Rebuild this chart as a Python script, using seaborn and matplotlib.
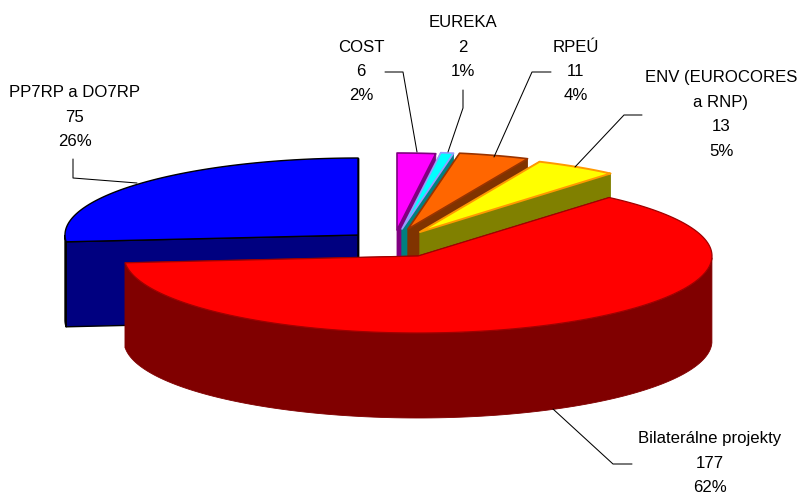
import numpy as np
import matplotlib
matplotlib.use("Agg")
import matplotlib.pyplot as plt
from matplotlib.patches import Polygon
import seaborn as sns

# ---- data ----
categories = ["Bilaterálne projekty", "PP7RP a DO7RP", "COST", "EUREKA", "RPEÚ", "ENV (EUROCORES\na RNP)"]
values = [177, 75, 6, 2, 11, 13]

# ---- styles ----
top_colors = ["#FF0000", "#0000FF", "#FF00FF", "#00FFFF", "#FF6600", "#FFFF00"]
side_colors = ["#800000", "#000080", "#800080", "#008080", "#803300", "#808000"]
edge_colors = ["#A00000", "#000000", "#800080", "#9999FF", "#993300", "#FF9900"]
edge_widths = [0.9, 1.0, 1.2, 1.2, 1.2, 1.4]

# ---- layout (pixels) ----
apex_x = [418, 358, 397, 402, 408, 420]
apex_y = [256, 235, 230, 229, 229, 232]
radius_x = [294, 293, 293, 293, 293, 293]
radius_y = 77
depth = 85
draw_order = [1, 2, 3, 4, 5, 0]
label_x = [710, 75, 361, 463, 576, 721]
label_y = [463, 117, 71.5, 47, 71.5, 114.5]
leader_paths = [
    ([632, 613, 553], [464, 464, 409]),
    ([73, 73, 137], [159, 178, 183]),
    ([385, 403, 417], [72, 72, 152]),
    ([463, 463, 448], [90, 108, 152]),
    ([551, 532, 494], [72, 72, 157]),
    ([642, 624, 575], [115, 115, 167]),
]

sns.set_theme(style="white")
plt.rcParams["font.family"] = ["Liberation Sans", "DejaVu Sans"]

fig = plt.figure(figsize=(7.97, 4.95), dpi=100)
ax = fig.add_axes([0, 0, 1, 1])
ax.set_xlim(0, 797)
ax.set_ylim(495, 0)
ax.axis("off")

total = sum(values)
sweeps = [v / total * 360 for v in values]
# clockwise order; the blue slice ends exactly at twelve o'clock
starts = []
a = 90 - sum(sweeps[2:])
for s in sweeps:
    starts.append(a)
    a -= s


def point(i, ang, dz=0):
    t = np.radians(ang)
    return (apex_x[i] + radius_x[i] * np.cos(t), apex_y[i] - radius_y * np.sin(t) + dz)


for z, i in enumerate(draw_order):
    a0, a1 = starts[i], starts[i] - sweeps[i]
    arc = np.linspace(a0, a1, 160)
    top = [(apex_x[i], apex_y[i])] + [point(i, t) for t in arc]
    zorder = 2 + z * 0.1
    kw = dict(closed=True, facecolor=side_colors[i], zorder=zorder)
    side_kw = dict(edgecolor=edge_colors[i] if i == 1 else side_colors[i],
                   linewidth=edge_widths[i] if i == 1 else 0.6, joinstyle="round")
    # cut faces
    for ang in (a0, a1):
        p = point(i, ang)
        q = point(i, ang, depth)
        ax.add_patch(Polygon([(apex_x[i], apex_y[i]), p, q, (apex_x[i], apex_y[i] + depth)], **kw, **side_kw))
    # outer wall, only where it faces the viewer
    visible = [t for t in arc if np.sin(np.radians(t)) <= 0]
    if visible:
        wall = [point(i, t) for t in visible] + [point(i, t, depth) for t in visible[::-1]]
        ax.add_patch(Polygon(wall, **kw, **side_kw))
    ax.add_patch(Polygon(top, closed=True, facecolor=top_colors[i], edgecolor=edge_colors[i],
                         linewidth=edge_widths[i], joinstyle="round", zorder=zorder))

# leader lines
for xs, ys in leader_paths:
    sns.lineplot(x=xs, y=ys, sort=False, estimator=None, color="#000000", linewidth=0.75,
                 ax=ax, zorder=5, legend=False)

# labels
for name, v, x, y in zip(categories, values, label_x, label_y):
    pct = round(v / total * 100)
    ax.text(x, y, f"{name}\n{v}\n{pct}%", ha="center", va="center", fontsize=12.1,
            color="#000000", linespacing=1.78, zorder=6)

ax.set_xlim(0, 797)
ax.set_ylim(495, 0)
fig.savefig("out.png", dpi=100, facecolor="white")
